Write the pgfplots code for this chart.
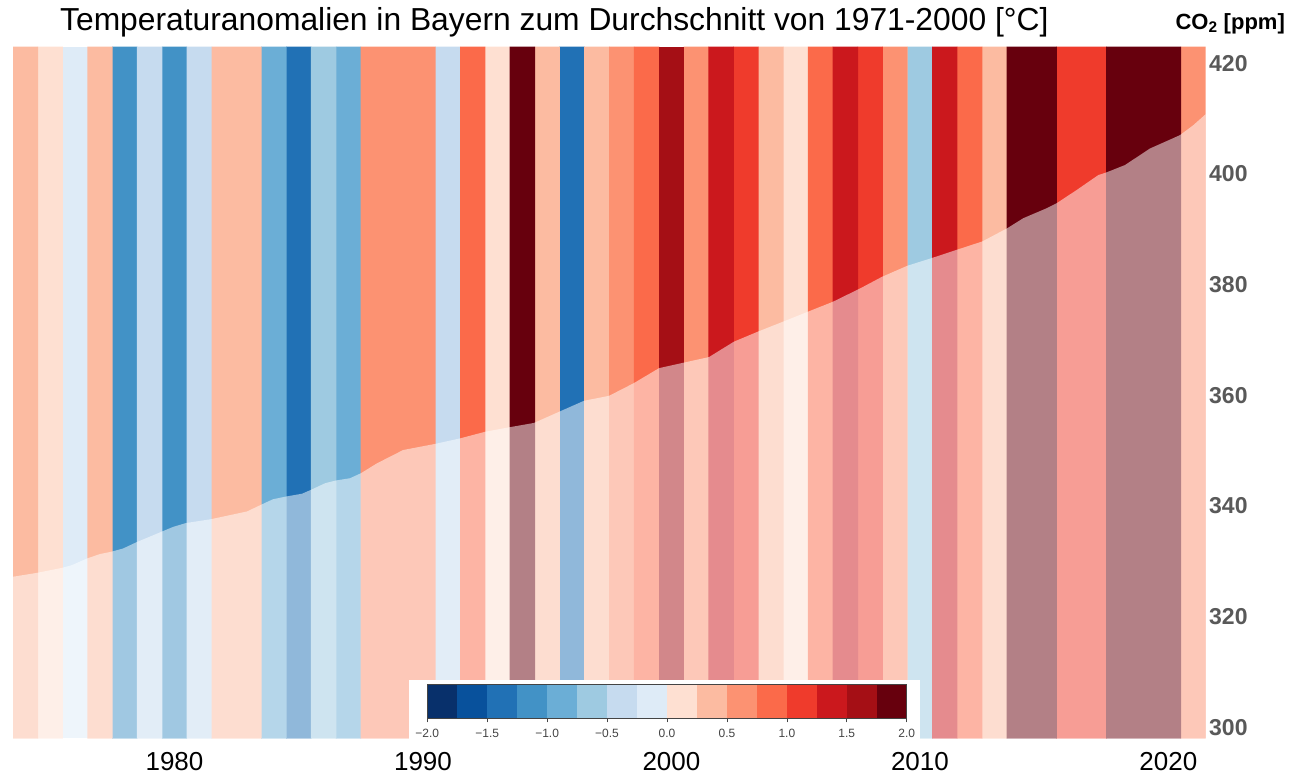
\documentclass[border=0pt]{standalone}
\usepackage{pgfplots}
\pgfplotsset{compat=1.18}
\usepackage{fontspec}
\setmainfont{Liberation Sans}

\definecolor{b8}{HTML}{08306B}
\definecolor{b7}{HTML}{08519C}
\definecolor{b6}{HTML}{2171B5}
\definecolor{b5}{HTML}{4292C6}
\definecolor{b4}{HTML}{6BAED6}
\definecolor{b3}{HTML}{9ECAE1}
\definecolor{b2}{HTML}{C6DBEF}
\definecolor{b1}{HTML}{DEEBF7}
\definecolor{r1}{HTML}{FEE0D2}
\definecolor{r2}{HTML}{FCBBA1}
\definecolor{r3}{HTML}{FC9272}
\definecolor{r4}{HTML}{FB6A4A}
\definecolor{r5}{HTML}{EF3B2C}
\definecolor{r6}{HTML}{CB181D}
\definecolor{r7}{HTML}{A50F15}
\definecolor{r8}{HTML}{67000D}
\definecolor{labgray}{HTML}{595959}
\definecolor{cbgray}{HTML}{444444}

% CO2 concentration [ppm]
\pgfplotstableread{
year ppm
1973.5 327.2
1974.47 327.9
1975.47 328.8
1975.87 329.3
1976.48 330.5
1977.0 331.3
1977.44 331.7
1977.93 332.3
1978.45 333.4
1979.46 335.3
1979.94 336.2
1980.46 336.9
1981.47 337.6
1982.92 339.0
1983.48 340.2
1983.96 341.2
1984.49 341.7
1985.13 342.2
1985.49 342.9
1986.06 344.1
1986.5 344.6
1987.06 345.0
1987.5 345.9
1988.15 347.7
1989.2 350.1
1990.48 351.2
1991.49 352.2
1992.5 353.4
1993.46 354.2
1994.47 355.0
1995.47 357.0
1996.48 359.0
1997.49 359.9
1998.49 362.2
1999.5 364.9
2000.5 365.9
2001.51 366.9
2002.52 369.7
2003.48 371.5
2004.49 373.3
2005.49 375.1
2006.5 376.9
2007.59 379.3
2008.47 381.4
2009.49 383.4
2010.48 384.8
2011.49 386.3
2012.51 387.8
2013.52 390.2
2014.16 392.0
2015.1 393.8
2015.5 394.7
2016.31 397.1
2017.18 399.8
2017.52 400.3
2018.25 401.6
2019.26 404.6
2020.46 407.0
2021.0 408.8
2021.5 410.8
}\cotwo

\pgfplotsset{stripe/.style={ybar, bar width=1.02, bar shift=0pt, fill=#1, draw=none}}

\begin{document}
\begin{tikzpicture}
\begin{axis}[
  at={(13pt,36.7pt)}, anchor=south west,
  width=1192.7pt, height=691.6pt, scale only axis,
  xmin=1973.5, xmax=2021.5, ymin=298, ymax=423,
  clip mode=individual,
  axis line style={draw=none},
  major tick length=0pt,
  xtick={1980,1990,2000,2010,2020},
  ytick={300,320,340,360,380,400,420},
  yticklabel pos=right,
  /pgf/number format/assume math mode=true,
  /pgf/number format/set thousands separator={},
  x tick label style={font=\fontsize{26}{30}\selectfont, text=black, yshift=-11pt},
  y tick label style={font=\fontsize{23}{27}\selectfont\bfseries, text=labgray},
  title={Temperaturanomalien in Bayern zum Durchschnitt von 1971-2000 [°C]},
  title style={font=\fontsize{31.8}{36}\selectfont, at={(axis description cs:0.4539,1.0150)}, anchor=base},
]
% warming stripes (anomaly class per year)
\addplot[stripe=b6] coordinates {(1985,423) (1996,423)};
\addplot[stripe=b5] coordinates {(1978,423) (1980,423)};
\addplot[stripe=b4] coordinates {(1984,423) (1987,423)};
\addplot[stripe=b3] coordinates {(1986,423) (2010,423)};
\addplot[stripe=b2] coordinates {(1979,423) (1981,423) (1991,423)};
\addplot[stripe=b1] coordinates {(1976,423)};
\addplot[stripe=r1] coordinates {(1975,423) (1993,423) (2005,423)};
\addplot[stripe=r2] coordinates {(1974,423) (1977,423) (1982,423) (1983,423) (1995,423) (1997,423) (2004,423) (2013,423)};
\addplot[stripe=r3] coordinates {(1988,423) (1989,423) (1990,423) (1998,423) (2001,423) (2009,423) (2021,423)};
\addplot[stripe=r4] coordinates {(1992,423) (1999,423) (2006,423) (2012,423)};
\addplot[stripe=r5] coordinates {(2003,423) (2008,423) (2016,423) (2017,423)};
\addplot[stripe=r6] coordinates {(2002,423) (2007,423) (2011,423)};
\addplot[stripe=r7] coordinates {(2000,423)};
\addplot[stripe=r8] coordinates {(1994,423) (2014,423) (2015,423) (2018,423) (2019,423) (2020,423)};
% CO2 overlay
\addplot[fill=white, fill opacity=0.5, draw=none] table[x=year, y=ppm] {\cotwo} \closedcycle;
\node[anchor=base west, font=\fontsize{22}{26}\selectfont\bfseries] at (rel axis cs:0.9718,1.0252) {CO\textsubscript{2} [ppm]};
\end{axis}

% colour bar
\begin{axis}[
  at={(427.3pt,56.7pt)}, anchor=south west,
  width=479.4pt, height=34.3pt, scale only axis,
  xmin=-2, xmax=2, ymin=0, ymax=1,
  clip=false,
  xtick={-2,-1.5,-1,-0.5,0,0.5,1,1.5,2},
  xticklabels={−2.0,−1.5,−1.0,−0.5,0.0,0.5,1.0,1.5,2.0},
  ytick=\empty, xtick pos=bottom,
  tick align=outside, major tick length=4pt,
  x tick style={draw=cbgray, line width=0.7pt},
  axis line style={draw=cbgray, line width=0.9pt},
  x tick label style={font=\fontsize{12}{14}\selectfont, text=cbgray, yshift=-3pt},
  axis on top,
]
% white box behind the colour bar
\addplot[fill=white, draw=none] coordinates {(-2.1527,1.1166) (2.111,1.1166)} |- (axis cs:-2.1527,-0.62) -- cycle;
\addplot[fill=b8, draw=none] coordinates {(-2,1) (-1.75,1)} \closedcycle;
\addplot[fill=b7, draw=none] coordinates {(-1.75,1) (-1.5,1)} \closedcycle;
\addplot[fill=b6, draw=none] coordinates {(-1.5,1) (-1.25,1)} \closedcycle;
\addplot[fill=b5, draw=none] coordinates {(-1.25,1) (-1,1)} \closedcycle;
\addplot[fill=b4, draw=none] coordinates {(-1,1) (-0.75,1)} \closedcycle;
\addplot[fill=b3, draw=none] coordinates {(-0.75,1) (-0.5,1)} \closedcycle;
\addplot[fill=b2, draw=none] coordinates {(-0.5,1) (-0.25,1)} \closedcycle;
\addplot[fill=b1, draw=none] coordinates {(-0.25,1) (0,1)} \closedcycle;
\addplot[fill=r1, draw=none] coordinates {(0,1) (0.25,1)} \closedcycle;
\addplot[fill=r2, draw=none] coordinates {(0.25,1) (0.5,1)} \closedcycle;
\addplot[fill=r3, draw=none] coordinates {(0.5,1) (0.75,1)} \closedcycle;
\addplot[fill=r4, draw=none] coordinates {(0.75,1) (1,1)} \closedcycle;
\addplot[fill=r5, draw=none] coordinates {(1,1) (1.25,1)} \closedcycle;
\addplot[fill=r6, draw=none] coordinates {(1.25,1) (1.5,1)} \closedcycle;
\addplot[fill=r7, draw=none] coordinates {(1.5,1) (1.75,1)} \closedcycle;
\addplot[fill=r8, draw=none] coordinates {(1.75,1) (2,1)} \closedcycle;
\end{axis}
\pgfresetboundingbox
\path (0,0) rectangle (1310pt,775pt);
\end{tikzpicture}
\end{document}
